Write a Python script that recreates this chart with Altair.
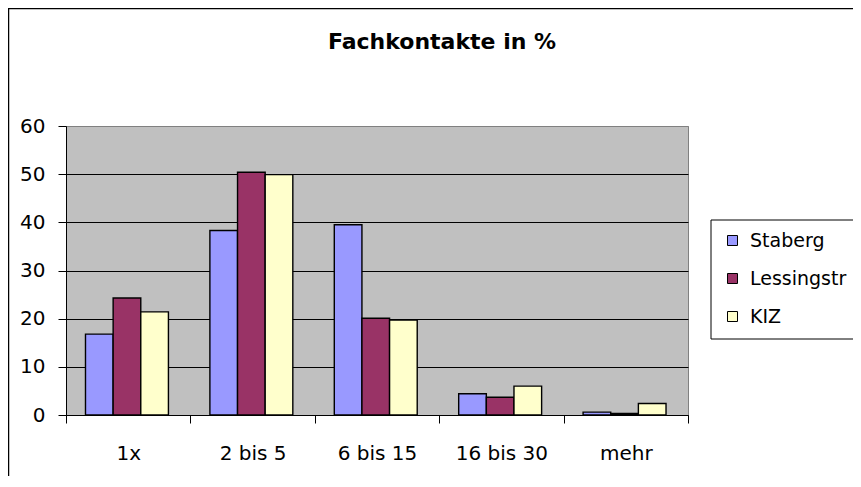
import altair as alt
import pandas as pd

categories = ["1x", "2 bis 5", "6 bis 15", "16 bis 30", "mehr"]
series = ["Staberg", "Lessingstr", "KIZ"]
staberg = [16.8, 38.3, 39.5, 4.4, 0.6]
lessingstr = [24.3, 50.4, 20.1, 3.7, 0.3]
kiz = [21.4, 49.9, 19.7, 6.0, 2.4]
colors = ["#9999FF", "#993366", "#FFFFCC"]
y_ticks = [0, 10, 20, 30, 40, 50, 60]

rows = []
for name, vals in zip(series, [staberg, lessingstr, kiz]):
    for c, v in zip(categories, vals):
        rows.append({"Kategorie": c, "Serie": name, "Wert": v})
df = pd.DataFrame(rows)

W, H = 622, 289
FONT = "DejaVu Sans"

bars = alt.Chart(df).mark_bar(stroke="black", strokeWidth=1.4).encode(
    x=alt.X(
        "Kategorie:N", sort=categories, title=None,
        scale=alt.Scale(paddingInner=0, paddingOuter=0),
        axis=alt.Axis(
            tickBand="extent", labelAngle=0, labelFont=FONT, labelFontSize=20,
            labelColor="black", labelPadding=20, tickSize=8, tickColor="black",
            domainColor="black", domainWidth=1, grid=False,
        ),
    ),
    xOffset=alt.XOffset(
        "Serie:N", sort=series,
        scale=alt.Scale(paddingInner=0, paddingOuter=0.75, align=0.47),
    ),
    y=alt.Y(
        "Wert:Q", title=None,
        scale=alt.Scale(domain=[0, 60], nice=False),
        axis=alt.Axis(
            values=y_ticks, labelFont=FONT, labelFontSize=20, labelColor="black",
            labelPadding=13, tickSize=8, tickColor="black", domainColor="black",
            grid=True,
            gridColor={"condition": {"test": "datum.value === 60", "value": "#808080"}, "value": "black"},
            gridWidth=1, gridOpacity=1,
        ),
    ),
    color=alt.Color(
        "Serie:N", sort=series,
        scale=alt.Scale(domain=series, range=colors),
        legend=alt.Legend(
            orient="none", legendX=657, legendY=105, title=None,
            symbolType="square", symbolSize=100, symbolStrokeColor="black",
            symbolStrokeWidth=1, labelFont=FONT, labelFontSize=19,
            labelColor="black", rowPadding=18, padding=0, labelOffset=8,
            labelLimit=300,
        ),
    ),
)

one = alt.Data(values=[{"k": 1}])
outer_frame = alt.Chart(one).mark_rect(
    fill="transparent", stroke="black", strokeWidth=1.5
).encode(
    x=alt.value(-57.5), x2=alt.value(1000), y=alt.value(-117.5), y2=alt.value(1000)
)
legend_frame = alt.Chart(one).mark_rect(
    fill="white", stroke="black", strokeWidth=1
).encode(
    x=alt.value(645), x2=alt.value(1000), y=alt.value(94), y2=alt.value(213)
)

chart = alt.layer(outer_frame, legend_frame, bars).properties(
    width=W, height=H,
    title=alt.TitleParams(
        "Fachkontakte in %", font=FONT, fontSize=22, fontWeight="bold",
        color="black", anchor="middle", frame="group", dx=65, offset=0,
        dy=63, baseline="alphabetic",
    ),
    autosize=alt.AutoSizeParams(type="none"),
    padding={"left": 58, "top": 118, "right": 165, "bottom": 61},
    background="white",
).configure_view(
    fill="#C0C0C0", stroke="#808080", strokeWidth=1
)

chart.save("out.html", embed_options={"renderer": "svg", "actions": False})
